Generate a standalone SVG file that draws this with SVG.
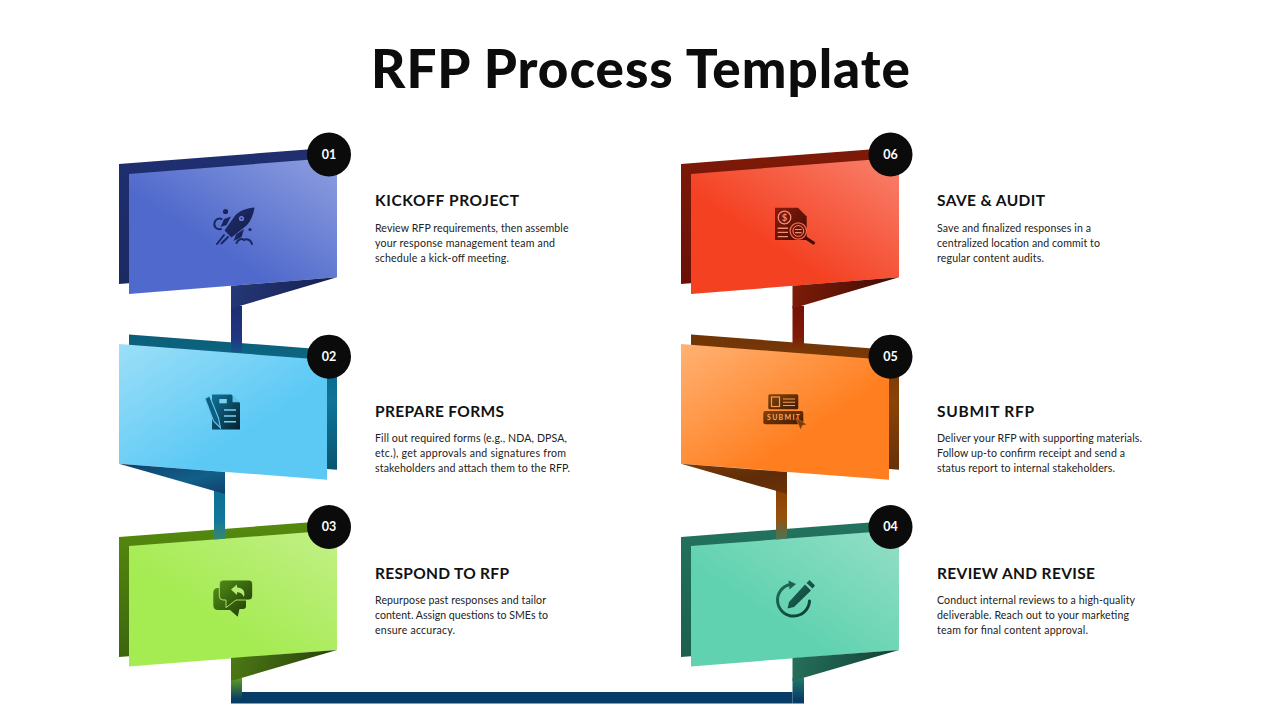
<svg xmlns="http://www.w3.org/2000/svg" width="1280" height="720" viewBox="0 0 1280 720">
<style>
text{font-family:"Lato","Liberation Sans",sans-serif;fill:#111}
.title{font-size:53px;font-weight:900;fill:#0c0c0c}
.h{font-size:15.5px;font-weight:700}
.b{font-size:10.6px;fill:#222}
.n{font-size:12.5px;font-weight:700;fill:#fff;text-anchor:middle}
.badge{fill:#0b0b0b}
</style>
<defs>
<linearGradient id="f1" x1="0.1" y1="0.9" x2="1" y2="0"><stop offset="0.3" stop-color="#4F69CC"/><stop offset="1" stop-color="#8E9FDF"/></linearGradient>
<linearGradient id="f2" x1="0" y1="0" x2="0.9" y2="0.9"><stop offset="0" stop-color="#9CDFF8"/><stop offset="0.7" stop-color="#5CC9F5"/></linearGradient>
<linearGradient id="f3" x1="0.1" y1="0.9" x2="1" y2="0"><stop offset="0.3" stop-color="#A5EB52"/><stop offset="1" stop-color="#C3F088"/></linearGradient>
<linearGradient id="f4" x1="0.1" y1="0.9" x2="1" y2="0"><stop offset="0.3" stop-color="#60D2AF"/><stop offset="1" stop-color="#94DFC6"/></linearGradient>
<linearGradient id="f5" x1="0" y1="0" x2="0.9" y2="0.9"><stop offset="0" stop-color="#FFB274"/><stop offset="0.7" stop-color="#FF7F20"/></linearGradient>
<linearGradient id="f6" x1="0.1" y1="0.9" x2="1" y2="0"><stop offset="0.3" stop-color="#F44122"/><stop offset="1" stop-color="#F9826E"/></linearGradient>
<linearGradient id="b1" x1="0" y1="0" x2="0" y2="1"><stop offset="0" stop-color="#1F2F70"/><stop offset="1" stop-color="#1B2A62"/></linearGradient>
<linearGradient id="b2" x1="0" y1="0" x2="0" y2="1"><stop offset="0" stop-color="#0B5E78"/><stop offset="0.5" stop-color="#0E7499"/><stop offset="1" stop-color="#0A5570"/></linearGradient>
<linearGradient id="b3" x1="0" y1="0" x2="0" y2="1"><stop offset="0" stop-color="#568A0E"/><stop offset="1" stop-color="#3D660D"/></linearGradient>
<linearGradient id="b4" x1="0" y1="0" x2="0" y2="1"><stop offset="0" stop-color="#22735F"/><stop offset="1" stop-color="#1B5F4E"/></linearGradient>
<linearGradient id="b5" x1="0" y1="0" x2="0" y2="1"><stop offset="0" stop-color="#703406"/><stop offset="0.5" stop-color="#8A4306"/><stop offset="1" stop-color="#66300A"/></linearGradient>
<linearGradient id="b6" x1="0" y1="0" x2="0" y2="1"><stop offset="0" stop-color="#7E1A08"/><stop offset="1" stop-color="#6A1006"/></linearGradient>
<linearGradient id="s1" x1="0" y1="0" x2="0" y2="1"><stop offset="0" stop-color="#1D2E72"/><stop offset="0.7" stop-color="#213680"/><stop offset="1" stop-color="#12558A"/></linearGradient>
<linearGradient id="s2" x1="0" y1="0" x2="0" y2="1"><stop offset="0" stop-color="#0E6F92"/><stop offset="0.6" stop-color="#11789B"/><stop offset="1" stop-color="#37896A"/></linearGradient>
<linearGradient id="s3" x1="0" y1="0" x2="0" y2="1"><stop offset="0" stop-color="#5F9E1F"/><stop offset="0.85" stop-color="#063C66"/></linearGradient>
<linearGradient id="s4" x1="0" y1="0" x2="0" y2="1"><stop offset="0" stop-color="#1F7A66"/><stop offset="0.85" stop-color="#063C66"/></linearGradient>
<linearGradient id="s5" x1="0" y1="0" x2="0" y2="1"><stop offset="0" stop-color="#8A4206"/><stop offset="0.55" stop-color="#98500A"/><stop offset="1" stop-color="#46765A"/></linearGradient>
<linearGradient id="s6" x1="0" y1="0" x2="0" y2="1"><stop offset="0" stop-color="#741006"/><stop offset="0.65" stop-color="#801A08"/><stop offset="1" stop-color="#7A3A06"/></linearGradient>
<linearGradient id="t1" x1="0" y1="0.2" x2="1" y2="0.3"><stop offset="0" stop-color="#263878"/><stop offset="1" stop-color="#151F50"/></linearGradient>
<linearGradient id="t2" x1="0" y1="0" x2="1" y2="1"><stop offset="0" stop-color="#0E3E66"/><stop offset="0.6" stop-color="#11608A"/><stop offset="1" stop-color="#123F6C"/></linearGradient>
<linearGradient id="t3" x1="0" y1="0.2" x2="1" y2="0.3"><stop offset="0" stop-color="#4C7A14"/><stop offset="1" stop-color="#27400A"/></linearGradient>
<linearGradient id="t4" x1="0" y1="0.2" x2="1" y2="0.3"><stop offset="0" stop-color="#26705C"/><stop offset="1" stop-color="#123F34"/></linearGradient>
<linearGradient id="t5" x1="0" y1="0" x2="1" y2="1"><stop offset="0" stop-color="#7A3A06"/><stop offset="0.6" stop-color="#5E2C08"/><stop offset="1" stop-color="#6E3208"/></linearGradient>
<linearGradient id="t6" x1="0" y1="0.2" x2="1" y2="0.3"><stop offset="0" stop-color="#7E1C08"/><stop offset="1" stop-color="#3F0C04"/></linearGradient>
<linearGradient id="i1" x1="0" y1="0" x2="1" y2="1"><stop offset="0" stop-color="#1F2E6E"/><stop offset="1" stop-color="#141D48"/></linearGradient>
<linearGradient id="i2" x1="0" y1="0" x2="1" y2="1"><stop offset="0" stop-color="#0F7298"/><stop offset="1" stop-color="#06222F"/></linearGradient>
<linearGradient id="i3" x1="0" y1="0" x2="1" y2="1"><stop offset="0" stop-color="#4F8C16"/><stop offset="1" stop-color="#223C08"/></linearGradient>
<linearGradient id="i4" x1="0" y1="0" x2="1" y2="1"><stop offset="0" stop-color="#1F6E5C"/><stop offset="1" stop-color="#0D3A32"/></linearGradient>
<linearGradient id="i5" x1="0" y1="0" x2="1" y2="1"><stop offset="0" stop-color="#8A4408"/><stop offset="1" stop-color="#3D1A04"/></linearGradient>
<linearGradient id="i6" x1="0" y1="0" x2="1" y2="1"><stop offset="0" stop-color="#8A1C0C"/><stop offset="1" stop-color="#3F0B05"/></linearGradient>
</defs>
<rect width="1280" height="720" fill="#fff"/>
<text class="title" x="371" y="88" textLength="539" lengthAdjust="spacing">RFP Process Template</text>

<g id="node-01">
<polygon points="119,164 327,148 327,268 119,284" fill="url(#b1)"/>
<polygon points="129,174 337,157.500 337,277.300 129,294" fill="url(#f1)"/>
<g id="icon-rocket" fill="url(#i1)">
<path d="M254.500 207.500C247 208 240 210.500 235.500 215L224.500 230.500L231.500 237.500L246.500 225.500C251 221 253.500 214 254.500 207.500Z"/>
<path d="M231 216.500L224 219L220.500 227L226.500 225Z"/>
<path d="M244 229L241.500 237L233.500 241L236 234.500Z"/>
<circle cx="225.500" cy="211.500" r="2.600"/><circle cx="250" cy="229.500" r="1.600"/>
<g fill="none" stroke="#1A2760" stroke-width="2" stroke-linecap="round">
<path d="M221 229C217 230 213.500 227 214.500 223C215 219 219 218 221.500 219"/>
<path d="M236.500 243C238 239 242 238 244 240C247 238 251 240 252 244"/>
<path d="M217 244L224 235M221.500 243.500L228 237"/>
</g>
<circle cx="241.500" cy="218.500" r="2.600" fill="#6A80D4"/><circle cx="241.500" cy="218.500" r="1" fill="#1A2760"/>
</g>
<circle class="badge" cx="329" cy="154.500" r="22"/>
<text class="n" x="329" y="158.900">01</text>
<text class="h" x="375" y="206" textLength="144" lengthAdjust="spacing">KICKOFF PROJECT</text>
<text class="b" x="375" y="232" textLength="193.500" lengthAdjust="spacing">Review RFP requirements, then assemble</text>
<text class="b" x="375" y="247" textLength="180" lengthAdjust="spacing">your response management team and</text>
<text class="b" x="375" y="262" textLength="134" lengthAdjust="spacing">schedule a kick-off meeting.</text>
</g>

<g id="node-02">
<polygon points="129,334.500 337,350.500 337,469.700 129,454" fill="url(#b2)"/>
<polygon points="119,344 327,360 327,479.700 119,463.700" fill="url(#f2)"/>
<g id="icon-forms">
<path d="M212 394.500H231.500L240 403V429.500H212Z" fill="url(#i2)"/>
<path d="M232.500 394.500L240 402.200H232.500Z" fill="#5CC2EA"/>
<path d="M205 398.500L209.500 396L218.500 418L220.500 428L213.500 421Z" fill="#0E5E80" stroke="#62C6EE" stroke-width="1.100"/>
<rect x="219.300" y="399" width="7.500" height="4.300" fill="#7CCFEE"/>
<path d="M224 410H236M224 416H236M224 421.700H236" stroke="#7CCFEE" stroke-width="1.500" fill="none"/>
</g>
<circle class="badge" cx="329" cy="356.700" r="22"/>
<text class="n" x="329" y="361.100">02</text>
<text class="h" x="375" y="417" textLength="129" lengthAdjust="spacing">PREPARE FORMS</text>
<text class="b" x="375" y="442" textLength="192" lengthAdjust="spacing">Fill out required forms (e.g., NDA, DPSA,</text>
<text class="b" x="375" y="457" textLength="191" lengthAdjust="spacing">etc.), get approvals and signatures from</text>
<text class="b" x="375" y="472" textLength="195" lengthAdjust="spacing">stakeholders and attach them to the RFP.</text>
</g>

<g id="node-03">
<polygon points="119,537 327,521 327,641 119,657" fill="url(#b3)"/>
<polygon points="129,546 337,530 337,650 129,666.500" fill="url(#f3)"/>
<g id="icon-chat">
<path d="M218 588H243Q246 588 246 591V606Q246 609 243 609H239.500L237.700 616.700L230 610H218Q213.300 610 213.300 605V593Q213.300 588 218 588Z" fill="url(#i3)"/>
<path d="M223 580H249Q252.700 580 252.700 584V596Q252.700 600 249 600H236L226 607.700V600H223Q219.300 600 219.300 596V584Q219.300 580 223 580Z" fill="url(#i3)" stroke="#B4EC74" stroke-width="0.900"/>
<path d="M231 589.500L237 584.500V587.500C242.500 587.500 245.500 591 244 597C242.500 593.500 240 592.300 237 592.300V595Z" fill="#B4EC74"/>
</g>
<circle class="badge" cx="329" cy="527" r="22"/>
<text class="n" x="329" y="531.400">03</text>
<text class="h" x="375" y="579" textLength="134" lengthAdjust="spacing">RESPOND TO RFP</text>
<text class="b" x="375" y="604" textLength="171" lengthAdjust="spacing">Repurpose past responses and tailor</text>
<text class="b" x="375" y="619" textLength="173" lengthAdjust="spacing">content. Assign questions to SMEs to</text>
<text class="b" x="375" y="634" textLength="80" lengthAdjust="spacing">ensure accuracy.</text>
</g>

<g id="node-04">
<polygon points="681,537 889,521 889,641 681,657" fill="url(#b4)"/>
<polygon points="691,546 899,530 899,650 691,666.500" fill="url(#f4)"/>
<g id="icon-revise">
<path d="M790 584.500A16 16 0 1 0 809.500 601" fill="none" stroke="url(#i4)" stroke-width="3" stroke-linecap="round"/>
<path d="M788.500 580.500L796 584L789.500 589.500Z" fill="#1A6252"/>
<path d="M809.500 580L815 585.500L812.500 588.500L806.500 583ZM805 584.500L811 590.500L794 607L787.500 608.500L789 602Z" fill="url(#i4)"/>
</g>
<circle class="badge" cx="890.500" cy="527" r="22"/>
<text class="n" x="890.500" y="531.400">04</text>
<text class="h" x="937" y="579" textLength="158" lengthAdjust="spacing">REVIEW AND REVISE</text>
<text class="b" x="937" y="604" textLength="198" lengthAdjust="spacing">Conduct internal reviews to a high-quality</text>
<text class="b" x="937" y="619" textLength="192" lengthAdjust="spacing">deliverable. Reach out to your marketing</text>
<text class="b" x="937" y="634" textLength="151" lengthAdjust="spacing">team for final content approval.</text>
</g>

<g id="node-05">
<polygon points="691,334.500 899,350.500 899,469.700 691,454" fill="url(#b5)"/>
<polygon points="681,344 889,360 889,479.700 681,463.700" fill="url(#f5)"/>
<g id="icon-submit">
<rect x="768.300" y="394.300" width="30" height="15" rx="1.500" fill="url(#i5)"/>
<rect x="771.500" y="397" width="8" height="9.500" fill="none" stroke="#F59A50" stroke-width="1.200"/>
<path d="M783 399H795M783 402.300H795M783 405.500H795" stroke="#F59A50" stroke-width="1.100" fill="none"/>
<rect x="763.300" y="411" width="40" height="13.300" rx="2" fill="url(#i5)"/>
<text x="767" y="420.200" textLength="33" lengthAdjust="spacing" style="font-size:7px;font-weight:700;fill:#F8A868">SUBMIT</text>
<path d="M796 418L807 424.500L802.500 425.500L800.500 430Z" fill="#7A3C08" stroke="#FF8C34" stroke-width="0.500"/>
</g>
<circle class="badge" cx="890.500" cy="356.700" r="22"/>
<text class="n" x="890.500" y="361.100">05</text>
<text class="h" x="937" y="417" textLength="97" lengthAdjust="spacing">SUBMIT RFP</text>
<text class="b" x="937" y="442" textLength="205" lengthAdjust="spacing">Deliver your RFP with supporting materials.</text>
<text class="b" x="937" y="457" textLength="188" lengthAdjust="spacing">Follow up-to confirm receipt and send a</text>
<text class="b" x="937" y="472" textLength="178" lengthAdjust="spacing">status report to internal stakeholders.</text>
</g>

<g id="node-06">
<polygon points="681,164 889,148 889,268 681,284" fill="url(#b6)"/>
<polygon points="691,174 899,157.500 899,277.300 691,294" fill="url(#f6)"/>
<g id="icon-audit">
<path d="M775 207.700H798L806.700 216.500V240H775Z" fill="url(#i6)"/>
<circle cx="784.500" cy="217.500" r="6.300" fill="none" stroke="#F58A72" stroke-width="1.300"/>
<text x="784.500" y="220.800" text-anchor="middle" style="font-size:9.500px;font-weight:700;fill:#F58A72">$</text>
<path d="M777.700 228.300H788M777.700 232.400H788M777.700 236.600H788" stroke="#F58A72" stroke-width="1.400" fill="none"/>
<path d="M803.500 236.500L813.500 243" stroke="#3F0B05" stroke-width="3.200" stroke-linecap="round" fill="none"/>
<circle cx="798.300" cy="231" r="8.200" fill="#6A1408" stroke="#F5654A" stroke-width="1.300"/>
<circle cx="798.300" cy="231" r="5.400" fill="none" stroke="#F58A72" stroke-width="1"/>
<path d="M795 229.500H801.600M795 232.700H801.600" stroke="#F58A72" stroke-width="1.200" fill="none"/>
</g>
<circle class="badge" cx="890.500" cy="154.500" r="22"/>
<text class="n" x="890.500" y="158.900">06</text>
<text class="h" x="937" y="206" textLength="108" lengthAdjust="spacing">SAVE &amp; AUDIT</text>
<text class="b" x="937" y="232" textLength="154" lengthAdjust="spacing">Save and finalized responses in a</text>
<text class="b" x="937" y="247" textLength="163" lengthAdjust="spacing">centralized location and commit to</text>
<text class="b" x="937" y="262" textLength="107" lengthAdjust="spacing">regular content audits.</text>
</g>

<g id="connectors">
<polygon points="231,306 242,306 242,352.400 231,352" fill="url(#s1)"/>
<polygon points="231,285.700 337,277.300 231,308.500" fill="url(#t1)"/>
<polygon points="214,490 225,490 225,538.700 214,539.600" fill="url(#s2)"/>
<polygon points="119,463.700 225,472 225,494" fill="url(#t2)"/>
<polygon points="231,678 242,678 242,703.500 231,703.500" fill="url(#s3)"/>
<polygon points="231,658 337,650 231,681" fill="url(#t3)"/>
<rect x="242" y="692" width="550.500" height="11.500" fill="#063C66"/>
<polygon points="792.500,678 804,678 804,703.500 792.500,703.500" fill="url(#s4)"/>
<polygon points="792.500,658 899,650 792.500,681" fill="url(#t4)"/>
<polygon points="776,490 787,490 787,538.700 776,539.600" fill="url(#s5)"/>
<polygon points="681,463.700 787,472 787,494" fill="url(#t5)"/>
<polygon points="792.500,306 804,306 804,352.400 792.500,352" fill="url(#s6)"/>
<polygon points="792.500,285.700 899,277.300 792.500,308.500" fill="url(#t6)"/>
</g>
</svg>
